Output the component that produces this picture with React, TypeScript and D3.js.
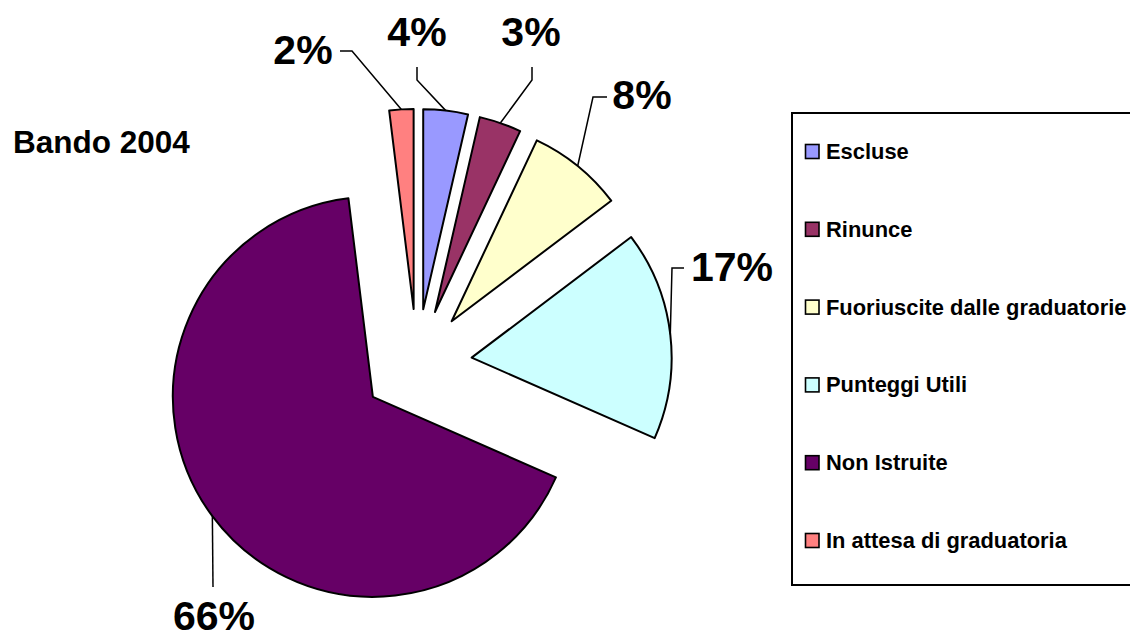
import React from "react";
import * as d3 from "d3";

const categories = [
  "Escluse",
  "Rinunce",
  "Fuoriuscite dalle graduatorie",
  "Punteggi Utili",
  "Non Istruite",
  "In attesa di graduatoria",
];
const values = [72, 68, 154, 338, 1329, 39];
const colors = ["#9999FF", "#993366", "#FFFFCC", "#CCFFFF", "#660066", "#FF8080"];
const title = "Bando 2004";

// label layout: text centre / baseline, leader elbow and tip
const labelLayout = [
  { x: 417, y: 46, elbow: [417, 80], tip: [417, 67] },
  { x: 531, y: 46, elbow: [532, 80], tip: [532, 67] },
  { x: 642, y: 109, elbow: [593, 97], tip: [607, 97] },
  { x: 732, y: 281, elbow: [672, 268], tip: [684, 268] },
  { x: 214, y: 630, elbow: [213, 587], tip: [213, 587] },
  { x: 303, y: 64, elbow: [352, 51], tip: [340, 51] },
];

const W = 1130;
const H = 639;
const CX = 417;
const CY = 364;
const R = 200;
const EXPLODE = 55;
const FONT = "'Liberation Sans', Arial, Helvetica, sans-serif";

export default function App() {
  const total = d3.sum(values);
  const pie = d3
    .pie<number>()
    .sort(null)
    .value((d) => d)
    .startAngle(0)
    .endAngle(2 * Math.PI);
  const arcs = pie(values);
  const arc = d3.arc<d3.PieArcDatum<number>>().innerRadius(0).outerRadius(R);

  const legendTop = 113;
  const legendStep = 77.8;

  return (
    <svg
      width={W}
      height={H}
      style={{ position: "absolute", left: 0, top: 0, background: "#fff" }}
      fontFamily={FONT}
    >
      <rect x={0} y={0} width={W} height={H} fill="#fff" />
      <text x={13} y={153} fontSize={31.5} fontWeight="bold" fill="#000">
        {title}
      </text>
      {arcs.map((a, i) => {
        const mid = (a.startAngle + a.endAngle) / 2;
        const ox = CX + EXPLODE * Math.sin(mid);
        const oy = CY - EXPLODE * Math.cos(mid);
        return (
          <path
            key={"s" + i}
            d={arc(a) || ""}
            transform={`translate(${ox},${oy})`}
            fill={colors[i]}
            stroke="#000"
            strokeWidth={2}
            strokeLinejoin="round"
          />
        );
      })}
      {arcs.map((a, i) => {
        const mid = (a.startAngle + a.endAngle) / 2;
        const ax = CX + (EXPLODE + R) * Math.sin(mid);
        const ay = CY - (EXPLODE + R) * Math.cos(mid);
        const L = labelLayout[i];
        const pct = Math.round((values[i] / total) * 100) + "%";
        return (
          <g key={"l" + i}>
            <polyline
              points={`${ax},${ay} ${L.elbow[0]},${L.elbow[1]} ${L.tip[0]},${L.tip[1]}`}
              fill="none"
              stroke="#000"
              strokeWidth={1.5}
            />
            <text
              x={L.x}
              y={L.y}
              textAnchor="middle"
              fontSize={41}
              fontWeight="bold"
              fill="#000"
            >
              {pct}
            </text>
          </g>
        );
      })}
      <rect
        x={792}
        y={legendTop}
        width={360}
        height={472}
        fill="#fff"
        stroke="#000"
        strokeWidth={2}
      />
      {categories.map((c, i) => {
        const top = 144 + i * legendStep;
        return (
          <g key={"g" + i}>
            <rect
              x={805.5}
              y={top + 0.5}
              width={13.5}
              height={14}
              fill={colors[i]}
              stroke="#000"
              strokeWidth={1.6}
            />
            <text x={826} y={top + 15} fontSize={21.9} fontWeight="bold" fill="#000">
              {c}
            </text>
          </g>
        );
      })}
    </svg>
  );
}
